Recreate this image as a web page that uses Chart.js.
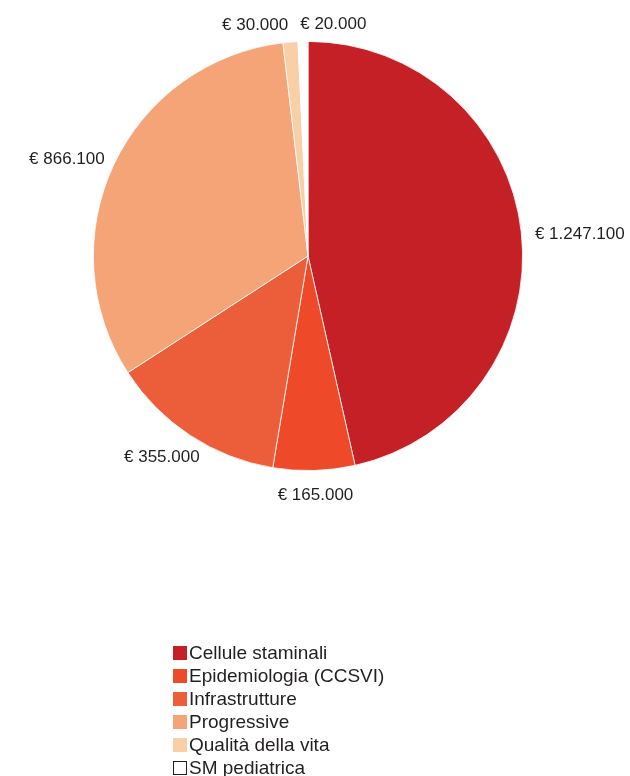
<!DOCTYPE html>
<html>
<head>
<meta charset="utf-8">
<script src="https://cdn.jsdelivr.net/npm/chart.js@4"></script>
<style>
  html, body { margin: 0; padding: 0; background: #fff; }
  #wrap { position: relative; width: 630px; height: 776px; }
  #legend { position: absolute; left: 173px; top: 641px; font-family: "Liberation Sans", Arial, sans-serif; font-size: 19px; color: #231f20; }
  #legend div { height: 23px; line-height: 23px; display: flex; align-items: center; }
  #legend span.box { display: inline-block; width: 14px; height: 14px; margin-right: 2px; box-sizing: border-box; }
</style>
</head>
<body>
<div id="wrap">
  <canvas id="myChart" width="630" height="776"></canvas>
  <div id="legend"></div>
</div>
<script>
// data
let categories = ['Cellule staminali', 'Epidemiologia (CCSVI)', 'Infrastrutture', 'Progressive', 'Qualità della vita', 'SM pediatrica'];
let amounts = [1247100, 165000, 355000, 866100, 30000, 20000];
let valueLabels = ['€ 1.247.100', '€ 165.000', '€ 355.000', '€ 866.100', '€ 30.000', '€ 20.000'];
let colors = ['#c52026', '#ee4a2a', '#ec5e3a', '#f5a478', '#f9cfa7', '#ffffff'];

// labels outside the pie, pushed apart when they overlap
const outsideLabels = {
    id: 'outsideLabels',
    afterDatasetsDraw(chart) {
        const ctx = chart.ctx;
        const arcs = chart.getDatasetMeta(0).data;
        ctx.save();
        ctx.font = '17px "Liberation Sans", Arial, sans-serif';
        ctx.fillStyle = '#231f20';
        ctx.textAlign = 'left';
        ctx.textBaseline = 'middle';
        let boxes = arcs.map(function(arc, i) {
            const p = arc.getProps(['x', 'y', 'startAngle', 'endAngle', 'outerRadius'], true);
            const mid = (p.startAngle + p.endAngle) / 2;
            const dx = Math.cos(mid), dy = Math.sin(mid);
            const r = p.outerRadius + 14;
            const ax = p.x + r * dx, ay = p.y + r * dy;
            const w = ctx.measureText(valueLabels[i]).width, h = 14;
            return { text: valueLabels[i], w: w, h: h,
                     left: ax - w * (1 - dx) / 2, top: ay - h * (1 - dy) / 2 };
        });
        for (let i = 0; i < boxes.length; i++) {
            for (let j = 0; j < i; j++) {
                const a = boxes[j], b = boxes[i];
                const ov = Math.min(a.left + a.w, b.left + b.w) - Math.max(a.left, b.left);
                const ovy = Math.min(a.top + a.h, b.top + b.h) - Math.max(a.top, b.top);
                if (ov > -12 && ovy > 0) {
                    const push = (ov + 12) / 2;
                    if (a.left + a.w / 2 <= b.left + b.w / 2) { a.left -= push; b.left += push; }
                    else { a.left += push; b.left -= push; }
                }
            }
        }
        boxes.forEach(function(b) {
            ctx.fillText(b.text, b.left, b.top + b.h / 2 + 4);
        });
        ctx.restore();
    }
};

var ctx = document.getElementById('myChart').getContext('2d');
var myChart = new Chart(ctx, {
    type: 'pie',
    data: {
        labels: categories,
        datasets: [{
            data: amounts,
            backgroundColor: colors,
            borderColor: '#ffffff',
            borderWidth: 0.8,
            hoverOffset: 0
        }]
    },
    options: {
        responsive: false,
        animation: false,
        events: [],
        layout: {
            padding: { left: 93, right: 107, top: 41, bottom: 305 }
        },
        plugins: {
            legend: { display: false },
            tooltip: { enabled: false }
        }
    },
    plugins: [outsideLabels]
});

// legend as a single column under the pie
var legendEl = document.getElementById('legend');
categories.forEach(function(name, i) {
    var row = document.createElement('div');
    var box = document.createElement('span');
    box.className = 'box';
    box.style.background = colors[i];
    if (colors[i] === '#ffffff') box.style.border = '1.5px solid #231f20';
    row.appendChild(box);
    row.appendChild(document.createTextNode(name));
    legendEl.appendChild(row);
});
</script>
</body>
</html>
